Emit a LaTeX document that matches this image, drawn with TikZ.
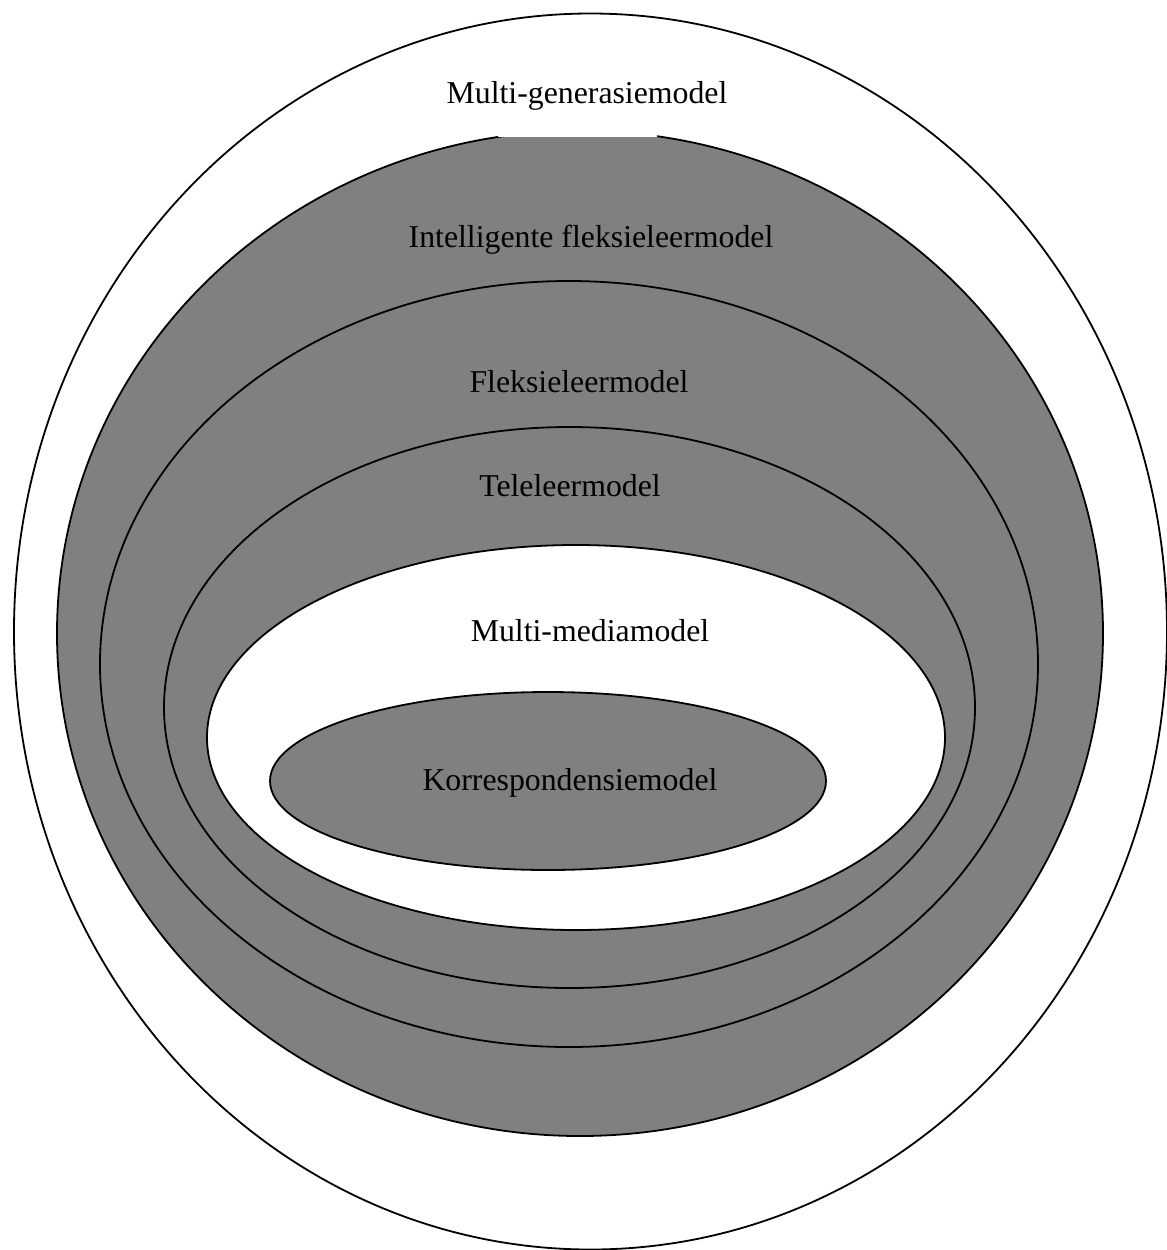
\documentclass[tikz,border=0pt]{standalone}
\usepackage{fontspec}
\setmainfont{Liberation Serif}
\definecolor{layergray}{HTML}{808080}
\begin{document}
\begin{tikzpicture}[x=0.5pt,y=-0.5pt,
  ring/.style={draw=black,line width=0.9pt},
  label/.style={anchor=base,inner sep=0pt,font=\fontsize{15.9}{19}\selectfont}]
\useasboundingbox (0,0) rectangle (1167,1250);
% nested model layers, outermost first
\path[ring,fill=white]     (590.5,631.5) ellipse [x radius=288.25pt,y radius=309pt];
\path[ring,fill=layergray] (580,633.4)   ellipse [x radius=261.5pt,y radius=251.3pt];
\path[ring,fill=layergray] (569,664)     ellipse [x radius=234.5pt,y radius=191.5pt];
\path[ring,fill=layergray] (569.5,707.5) ellipse [x radius=202.75pt,y radius=140.25pt];
\path[ring,fill=white]     (576,737.5)   ellipse [x radius=184.5pt,y radius=96.25pt];
\path[ring,fill=layergray] (548,781)     ellipse [x radius=139pt,y radius=44.5pt];
% blank band under the outer title
\fill[white] (498,112) rectangle (657,137);
% layer names
\node[label] (mg) at (587,103) {Multi-generasiemodel};
\node[label] (ifl) at (591,247) {Intelligente fleksieleermodel};
\node[label] (fl) at (579,392) {Fleksieleermodel};
\node[label] (tl) at (570,496) {Teleleermodel};
\node[label] (mm) at (590,641) {Multi-mediamodel};
\node[label] (ko) at (570,790) {Korrespondensiemodel};
\end{tikzpicture}
\end{document}
